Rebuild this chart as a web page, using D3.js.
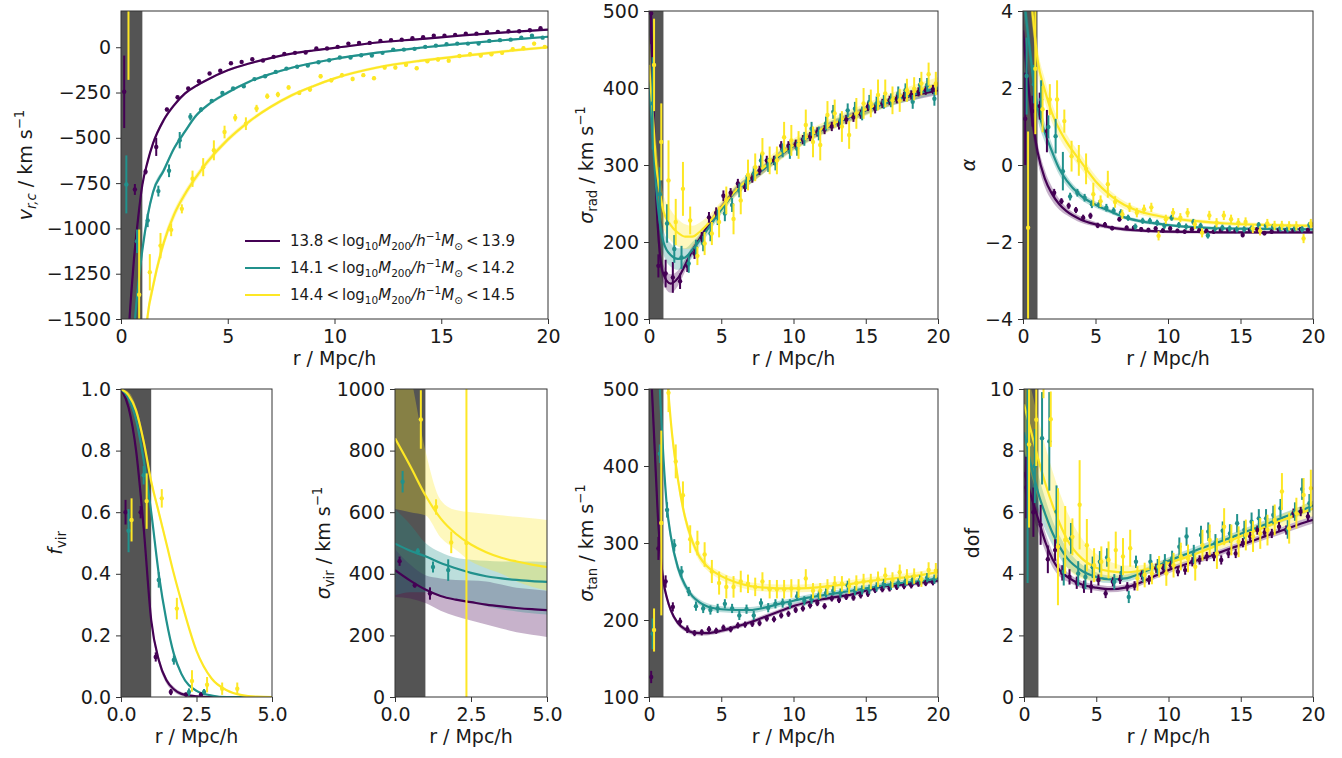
<!DOCTYPE html>
<html>
<head>
<meta charset="utf-8">
<title>velocity profiles</title>
<script src="https://cdnjs.cloudflare.com/ajax/libs/d3/7.8.5/d3.min.js"></script>
<style>
  body { margin: 0; background: #fff; }
  svg text { font-family: "DejaVu Sans", sans-serif; fill: #1a1a1a; }
</style>
</head>
<body>
<svg id="fig" width="1342" height="758"></svg>
<script>
// series colours (viridis ends + middle)
const colors = ["#440154", "#21918c", "#fde725"];
const massLo = ["13.8", "14.1", "14.4"];
const massHi = ["13.9", "14.2", "14.5"];

// radial bins (bin centres) and the small shift used per mass bin
const rBins = [0.25,0.75,1.25,1.75,2.25,2.75,3.25,3.75,4.25,4.75,5.25,5.75,6.25,6.75,7.25,7.75,8.25,8.75,9.25,9.75,
  10.25,10.75,11.25,11.75,12.25,12.75,13.25,13.75,14.25,14.75,15.25,15.75,16.25,16.75,17.25,17.75,18.25,18.75,19.25,19.75];
const rShift = [-0.1, 0, 0.1];
const innerR = [0, 1];   // shaded inner region

// ---- v_r,c ----
const vrcFitR = [0.3,0.4,0.5,0.6,0.75,1,1.25,1.5,2,2.5,3,3.5,4,5,6,7,8,9,10,12,14,16,18,20];
const vrcFitP = [-1750,-1500,-1330,-1180,-1000,-760,-630,-531,-402,-318,-255,-215,-182,-127,-90,-60,-35,-18,-4,26,45,65,82,97];
const vrcFitT = [-2600,-2200,-1850,-1600,-1380,-1120,-930,-800,-680,-555,-465,-380,-325,-250,-190,-148,-113,-87,-65,-30,-3,20,40,58];
const vrcFitY = [-4500,-3800,-3300,-2900,-2400,-1850,-1480,-1320,-1080,-920,-810,-720,-640,-510,-410,-330,-265,-215,-172,-112,-75,-48,-22,0];
const vrcBandP = [30,30,30,28,25,20,16,14,12,10,8,7,6,6,5,5,5,5,5,5,5,5,5,5];
const vrcBandT = [40,40,40,38,35,30,25,20,16,13,11,10,9,8,7,6,6,6,6,6,6,6,6,6];
const vrcBandY = [60,60,60,55,50,45,40,35,30,26,22,20,18,15,12,10,9,8,8,8,8,8,8,8];
const vrcP = [-246,-785,-687,-550,-344,-276,-228,-188,-145,-130,-88,-81,-66,-73,-53,-37,-31,-29,-7,-7,2,20,24,24,35,39,42,50,55,64,64,68,75,75,83,85,88,88,94,105];
const vrcPe = [200,30,15,50,10,8,6,6,6,6,5,5,5,5,5,5,5,5,5,5,5,5,5,5,5,5,5,5,5,5,5,5,5,5,5,5,5,5,5,5];
const vrcT = [-757,-1071,-956,-794,-682,-513,-384,-344,-296,-252,-228,-215,-176,-160,-136,-118,-108,-101,-83,-72,-57,-57,-44,-46,-31,-13,-13,-9,2,9,17,20,20,20,35,39,42,53,64,53];
const vrcTe = [160,65,37,30,35,45,20,12,10,10,8,8,7,7,7,7,6,6,6,6,6,6,6,6,6,6,6,6,6,6,6,6,6,6,6,6,6,6,6,6];
const vrcY = [250,-1366,-1242,-1095,-1008,-892,-726,-662,-569,-468,-389,-422,-338,-270,-261,-222,-252,-233,-160,-182,-154,-175,-154,-171,-112,-112,-97,-116,-77,-68,-74,-48,-39,-46,-39,-31,-11,-6,20,2];
const vrcYe = [430,360,100,70,35,25,45,50,55,35,20,35,20,15,15,12,12,12,12,12,12,12,10,10,10,10,10,10,10,10,10,10,10,10,10,10,10,10,10,10];

// ---- sigma_rad ----
const radFitR = [0,0.25,0.5,0.75,1,1.5,2,2.5,3,3.5,4,5,6,7,8,9,10,11,12,13,14,15,16,17,18,19,20];
const radFitP = [580,420,260,185,158,146,153,170,189,204,219,245,267,281,296,312,325,336,346,355,363,371,378,384,389,393,397];
const radFitT = [410,340,270,225,200,183,178,180,190,202,215,242,266,281,296,312,325,336,346,355,363,371,378,384,390,395,400];
const radFitY = [430,370,300,265,240,222,212,207,207,213,222,245,267,283,298,313,326,337,347,356,364,372,380,387,393,399,405];
const radBandP = [30,25,20,15,12,12,10,8,6,5,5,5,5,5,5,5,5,5,5,5,5,5,5,5,6,6,6];
const radBandT = [30,25,22,18,16,15,14,12,10,8,7,6,6,6,6,6,6,6,6,6,6,6,6,6,7,7,7];
const radBandY = [40,35,30,25,22,20,18,16,14,12,10,8,8,8,8,8,8,8,8,8,8,8,8,8,9,9,9];
const radP = [497,169,159,154,149,169,185,206,232,238,260,264,276,271,283,293,306,306,325,325,327,333,337,343,346,350,352,359,362,366,376,373,380,384,386,389,391,395,397,398];
const radPe = [40,15,18,20,10,8,7,7,7,7,7,6,6,6,6,6,6,6,6,6,6,6,6,6,6,6,6,6,6,6,6,6,6,6,6,6,6,6,6,6];
const radT = [380,262,224,191,180,172,193,198,211,232,237,248,267,278,289,306,300,302,319,317,321,334,347,341,354,369,358,371,373,367,382,380,382,384,393,397,382,404,404,386];
const radTe = [60,35,25,18,15,12,10,10,10,10,10,9,9,9,9,9,9,9,9,9,9,9,9,9,9,9,9,9,9,9,9,9,9,9,9,9,9,9,9,9];
const radY = [430,330,280,226,269,228,182,198,211,226,254,230,254,287,297,315,306,306,336,332,326,352,330,326,365,367,350,339,367,380,380,391,393,384,384,397,399,406,418,406];
const radYe = [60,50,52,30,35,18,12,15,15,20,18,20,18,20,18,20,18,18,20,20,18,20,20,20,18,18,20,18,20,20,18,20,18,18,15,15,15,15,15,15];

// ---- alpha ----
const alpFitR = [0,0.25,0.5,0.75,1,1.5,2,2.5,3,4,5,6,7,8,9,10,12,14,17,20];
const alpFitP = [3.5,2.5,1.6,0.9,0.35,-0.35,-0.75,-1.02,-1.2,-1.42,-1.54,-1.62,-1.67,-1.7,-1.72,-1.73,-1.74,-1.75,-1.75,-1.75];
const alpFitT = [4.6,3.7,2.9,2.1,1.5,0.85,0.35,-0.1,-0.4,-0.8,-1.03,-1.2,-1.36,-1.45,-1.51,-1.56,-1.62,-1.65,-1.66,-1.67];
const alpFitY = [7.5,6,4.6,3.6,2.75,1.95,1.35,0.93,0.6,0.08,-0.42,-0.78,-1.04,-1.2,-1.3,-1.37,-1.46,-1.52,-1.56,-1.58];
const alpBandP = [0.5,0.4,0.35,0.3,0.25,0.22,0.18,0.14,0.1,0.08,0.06,0.05,0.05,0.04,0.04,0.04,0.04,0.04,0.04,0.04];
const alpBandT = [0.5,0.45,0.4,0.35,0.3,0.25,0.2,0.16,0.13,0.1,0.08,0.06,0.05,0.05,0.05,0.04,0.04,0.04,0.04,0.04];
const alpBandY = [0.8,0.6,0.5,0.4,0.35,0.3,0.25,0.22,0.2,0.18,0.15,0.12,0.1,0.08,0.07,0.06,0.05,0.05,0.05,0.05];
const alpP = [1.2,1.4,1.53,0.88,-0.72,-0.94,-1.06,-1.17,-1.37,-1.32,-1.57,-1.55,-1.64,-1.41,-1.63,-1.63,-1.67,-1.69,-1.65,-1.7,-1.65,-1.71,-1.73,-1.67,-1.7,-1.71,-1.73,-1.7,-1.69,-1.71,-1.82,-1.69,-1.67,-1.77,-1.73,-1.69,-1.7,-1.7,-1.67,-1.69];
const alpPe = [1.2,0.4,0.35,0.55,0.1,0.08,0.08,0.08,0.08,0.08,0.07,0.07,0.06,0.06,0.06,0.06,0.06,0.06,0.06,0.06,0.06,0.06,0.06,0.06,0.06,0.06,0.06,0.06,0.06,0.06,0.06,0.06,0.06,0.06,0.06,0.06,0.06,0.06,0.06,0.06];
const alpT = [2.31,2.1,1.7,0.99,0.75,-0.16,-0.82,-0.72,-0.85,-1.02,-1.02,-1.11,-1.19,-1.24,-1.37,-1.6,-1.45,-1.45,-1.5,-1.58,-1.37,-1.56,-1.6,-1.48,-1.58,-1.83,-1.65,-1.63,-1.65,-1.67,-1.67,-1.65,-1.56,-1.58,-1.61,-1.65,-1.67,-1.65,-1.67,-1.56];
const alpTe = [1.0,0.5,0.5,0.3,0.45,0.5,0.1,0.1,0.1,0.1,0.1,0.1,0.09,0.09,0.08,0.08,0.08,0.08,0.08,0.08,0.08,0.08,0.08,0.08,0.08,0.08,0.08,0.08,0.08,0.08,0.08,0.08,0.08,0.08,0.08,0.08,0.08,0.08,0.08,0.08];
const alpY = [-1.63,2.5,1.45,1.7,1.7,1.14,0.23,0.12,-0.1,-0.76,-0.94,-0.5,-0.96,-1.28,-1.1,-1.24,-1.15,-1.1,-1.84,-1.41,-1.24,-1.37,-1.24,-1.54,-1.76,-1.31,-1.5,-1.31,-1.41,-1.5,-1.48,-1.65,-1.71,-1.52,-1.57,-1.57,-1.58,-1.58,-1.91,-1.52];
const alpYe = [2.5,1.7,0.6,0.4,0.5,0.3,0.4,0.4,0.4,0.3,0.15,0.35,0.15,0.12,0.12,0.12,0.12,0.12,0.12,0.12,0.12,0.12,0.12,0.12,0.12,0.12,0.12,0.12,0.12,0.12,0.12,0.12,0.12,0.12,0.12,0.12,0.12,0.12,0.12,0.12];

// ---- f_vir ----
const fvFitR = [0,0.25,0.5,0.75,1,1.25,1.5,1.75,2,2.5,3,3.5,4,4.5,5];
const fvFitP = [1,0.94,0.8,0.55,0.25,0.12,0.055,0.025,0.01,0.002,0,0,0,0,0];
const fvFitT = [1,0.97,0.9,0.77,0.6,0.4,0.25,0.14,0.075,0.02,0.005,0,0,0,0];
const fvFitY = [1,0.98,0.93,0.83,0.7,0.6,0.5,0.4,0.31,0.15,0.06,0.022,0.006,0.001,0];
const fvBand = [0,0.01,0.012,0.014,0.014,0.012,0.01,0.008,0.006,0.004,0.002,0.001,0,0,0];
const fvP = [0.6,0.6,0.13,0.016,0.008,0.008];
const fvPe = [0.04,0.02,0.015,0.01,0.006,0.006];
const fvT = [0.54,0.72,0.38,0.12,0.016,0.016];
const fvTe = [0.07,0.03,0.025,0.015,0.012,0.01];
const fvY = [0.575,0.636,0.645,0.287,0.052,0.04,0.027,0.027];
const fvYe = [0.07,0.09,0.03,0.035,0.035,0.025,0.02,0.02];

// ---- sigma_vir ----
const svFitR = [0,0.5,1,1.5,2,2.5,3,3.5,4,4.5,5];
const svFitP = [412,378,349,328,316,308,300,294,289,285,282];
const svLoP  = [325,320,305,280,262,248,235,222,210,202,195];
const svHiP  = [480,430,395,385,380,378,375,365,355,350,345];
const svFitT = [498,475,457,435,418,403,392,385,380,376,374];
const svLoT  = [330,340,340,330,318,305,295,285,278,272,268];
const svHiT  = [610,560,500,470,452,446,442,440,440,440,438];
const svFitY = [840,750,655,580,530,495,470,452,440,430,422];
const svLoY  = [610,600,590,518,478,440,418,400,375,358,345];
const svHiY  = [1250,1050,800,640,607,600,595,590,585,580,575];
const svP = [441,363,336];
const svPe = [15,8,20];
const svT = [699,473,422,412];
const svTe = [35,10,18,35];
const svY = [null,901,617,502,500];
const svYe = [0,95,25,35,5000];

// ---- sigma_tan ----
const tanFitR = [0.15,0.4,0.6,0.8,1,1.25,1.5,2,2.5,3,3.5,4,5,6,7,8,9,10,11,12,13,14,15,16,17,18,19,20];
const tanFitP = [520,420,340,285,250,228,213,196,188,184,183,183,186,191,197,204,211,218,223,227,230,233,238,243,245,247,249,251];
const tanFitT = [800,680,570,480,410,345,310,268,245,231,223,218,214,213,213,216,221,225,229,232,235,238,241,244,247,249,251,254];
const tanFitY = [1200,1000,850,700,600,520,460,383,333,302,282,270,257,249,244,242,241,241,241.5,243,245,247,250,252,254,256,259,262];
const tanBandP = [20,15,10,8,6,5,4,3,3,3,3,3,3,3,3,3,3,3,3,3,3,3,3,3,3,3,3,3];
const tanBandT = [25,20,15,12,10,8,7,6,5,4,4,4,4,4,4,4,4,4,4,4,4,4,4,4,4,4,4,4];
const tanBandY = [30,25,20,15,12,10,9,8,7,6,6,5,5,5,5,5,5,5,5,5,5,5,5,5,5,5,5,5];
const tanP = [126,293,250,217,198,188,183,184,188,186,190,188,193,194,195,196,202,201,206,208,213,215,219,222,218,228,226,230,229,232,234,239,240,241,243,244,245,247,248,249];
const tanPe = [8,15,8,6,5,5,4,4,4,4,4,4,4,4,4,4,4,4,4,4,4,4,4,4,4,4,4,4,4,4,4,4,4,4,4,4,4,4,4,4];
const tanT = [182,416,343,297,263,237,218,215,213,215,221,215,206,214,206,222,216,221,222,221,231,225,227,232,235,238,235,245,238,239,240,243,247,245,248,250,252,252,255,253];
const tanTe = [20,12,10,8,7,6,6,6,6,6,6,6,6,6,6,6,6,6,6,6,6,6,6,6,6,6,6,6,6,6,6,6,6,6,6,6,6,6,6,6];
const tanY = [187,326,495,406,362,305,300,285,263,248,243,243,250,247,243,250,240,240,240,241,241,254,238,238,243,247,247,244,248,250,250,253,258,252,262,256,257,253,265,264];
const tanYe = [28,120,25,22,18,18,16,16,15,15,15,14,14,12,12,12,12,12,12,12,12,12,10,10,10,10,10,10,10,10,10,10,10,10,10,10,10,10,10,10];

// ---- dof ----
const dofFitR = [0,0.5,1,1.5,2,2.5,3,4,5,6,7,8,9,10,11,12,13,14,15,16,17,18,19,20];
const dofFitP = [7.3,6.5,5.75,5.0,4.45,4.1,3.9,3.65,3.55,3.5,3.55,3.7,3.92,4.12,4.28,4.44,4.6,4.77,4.94,5.1,5.27,5.43,5.6,5.75];
const dofFitT = [8.6,7.5,6.6,5.9,5.3,4.85,4.5,4.1,3.9,3.82,3.85,4.0,4.2,4.42,4.6,4.78,4.95,5.12,5.3,5.48,5.66,5.84,6.02,6.22];
const dofFitY = [9.5,8.6,7.7,6.9,6.2,5.6,5.1,4.5,4.2,4.08,4.05,4.1,4.2,4.35,4.5,4.67,4.85,5.03,5.22,5.4,5.58,5.76,5.94,6.12];
const dofBandP = [0.6,0.5,0.4,0.3,0.25,0.2,0.15,0.12,0.1,0.1,0.1,0.1,0.1,0.1,0.1,0.1,0.1,0.1,0.1,0.1,0.11,0.11,0.12,0.12];
const dofBandT = [1.0,0.8,0.6,0.5,0.4,0.35,0.3,0.2,0.15,0.12,0.12,0.12,0.12,0.12,0.12,0.12,0.12,0.12,0.13,0.13,0.14,0.14,0.15,0.15];
const dofBandY = [1.5,1.4,1.3,1.2,1.1,1.0,0.9,0.65,0.45,0.3,0.22,0.18,0.15,0.15,0.15,0.15,0.15,0.15,0.15,0.17,0.18,0.2,0.22,0.25];
const dofP = [6.8,6.0,5.59,4.47,4.77,4.03,3.9,3.71,3.58,3.58,3.8,3.36,3.74,3.82,3.58,3.61,3.96,3.8,4.18,4.18,4.28,4.07,4.12,4.39,4.45,4.56,4.56,4.45,4.66,4.66,5.01,5.21,5.42,5.34,5.31,5.53,5.42,5.97,6.02,5.86];
const dofPe = [1.0,0.8,0.65,0.45,0.35,0.25,0.25,0.2,0.2,0.2,0.18,0.15,0.15,0.15,0.15,0.15,0.15,0.15,0.15,0.15,0.15,0.15,0.15,0.15,0.15,0.15,0.15,0.15,0.15,0.15,0.15,0.15,0.15,0.15,0.15,0.15,0.15,0.15,0.15,0.15];
const dofT = [8.3,7.5,8.4,8.3,6.02,4.07,5.15,4.01,3.9,4.21,4.39,4.53,3.74,4.03,3.25,4.39,3.93,4.39,4.23,4.39,4.5,4.88,5.21,4.64,5.26,5.37,4.99,5.4,5.31,5.64,5.42,5.69,5.8,5.8,5.91,6.13,5.44,6.02,6.75,6.29];
const dofTe = [4.6,1.2,1.5,1.6,0.85,0.45,0.5,0.4,0.4,0.35,0.35,0.3,0.25,0.22,0.2,0.2,0.2,0.25,0.25,0.25,0.25,0.3,0.3,0.3,0.3,0.3,0.3,0.3,0.3,0.3,0.3,0.3,0.3,0.3,0.3,0.3,0.3,0.3,0.35,0.3];
const dofY = [8.2,9.0,10.4,9.02,4.88,5.1,5.2,6.24,4.93,4.28,4.39,4.45,4.77,4.56,4.83,3.85,3.96,4.01,4.23,4.01,4.28,4.56,4.5,4.23,4.93,5.1,4.66,5.53,5.1,5.04,5.26,5.21,5.31,5.42,5.75,6.67,5.48,5.97,6.56,6.78];
const dofYe = [2.7,1.5,0.7,0.9,1.9,1.1,0.6,1.45,0.85,0.55,0.5,0.6,0.6,0.6,0.6,0.4,0.4,0.35,0.35,0.4,0.4,0.45,0.45,0.45,0.5,0.5,0.5,0.6,0.5,0.5,0.5,0.5,0.5,0.5,0.5,0.6,0.5,0.5,0.55,0.6];

// band from a fit and its half width
function band(fit, half) {
  return { lo: fit.map((v, i) => v - half[i]), hi: fit.map((v, i) => v + half[i]) };
}

const kmsUnit = [[" / km s", ""], ["\u22121", "sup"]];
const fmtInt = d3.format("d"), fmt1 = d3.format(".1f");

const panels = [
  { box: [121, 11, 548, 319], xd: [0, 20], yd: [-1500, 200],
    xt: [0, 5, 10, 15, 20], yt: [-1500, -1250, -1000, -750, -500, -250, 0], xf: fmtInt, yf: fmtInt,
    ylab: [["v", "i"], ["r,c", "isub"]].concat(kmsUnit), ylx: 25,
    fitR: vrcFitR, fits: [vrcFitP, vrcFitT, vrcFitY],
    bands: [band(vrcFitP, vrcBandP), band(vrcFitT, vrcBandT), band(vrcFitY, vrcBandY)],
    pts: [vrcP, vrcT, vrcY], errs: [vrcPe, vrcTe, vrcYe], legend: true },
  { box: [649, 11, 938, 319], xd: [0, 20], yd: [100, 500],
    xt: [0, 5, 10, 15, 20], yt: [100, 200, 300, 400, 500], xf: fmtInt, yf: fmtInt,
    ylab: [["\u03c3", "i"], ["rad", "sub"]].concat(kmsUnit), ylx: 586,
    fitR: radFitR, fits: [radFitP, radFitT, radFitY],
    bands: [band(radFitP, radBandP), band(radFitT, radBandT), band(radFitY, radBandY)],
    pts: [radP, radT, radY], errs: [radPe, radTe, radYe] },
  { box: [1023, 11, 1313, 319], xd: [0, 20], yd: [-4, 4],
    xt: [0, 5, 10, 15, 20], yt: [-4, -2, 0, 2, 4], xf: fmtInt, yf: fmtInt,
    ylab: [["\u03b1", "i"]], ylx: 968,
    fitR: alpFitR, fits: [alpFitP, alpFitT, alpFitY],
    bands: [band(alpFitP, alpBandP), band(alpFitT, alpBandT), band(alpFitY, alpBandY)],
    pts: [alpP, alpT, alpY], errs: [alpPe, alpTe, alpYe] },
  { box: [121, 389, 272, 697], xd: [0, 5], yd: [0, 1],
    xt: [0, 2.5, 5], yt: [0, 0.2, 0.4, 0.6, 0.8, 1.0], xf: fmt1, yf: fmt1,
    ylab: [["f", "i"], ["vir", "sub"]], ylx: 55,
    fitR: fvFitR, fits: [fvFitP, fvFitT, fvFitY],
    bands: [band(fvFitP, fvBand), band(fvFitT, fvBand), band(fvFitY, fvBand)],
    pts: [fvP, fvT, fvY], errs: [fvPe, fvTe, fvYe] },
  { box: [395, 389, 547, 697], xd: [0, 5], yd: [0, 1000],
    xt: [0, 2.5, 5], yt: [0, 200, 400, 600, 800, 1000], xf: fmt1, yf: fmtInt,
    ylab: [["\u03c3", "i"], ["vir", "sub"]].concat(kmsUnit), ylx: 323,
    fitR: svFitR, fits: [svFitP, svFitT, svFitY],
    bands: [{ lo: svLoP, hi: svHiP }, { lo: svLoT, hi: svHiT }, { lo: svLoY, hi: svHiY }],
    pts: [svP, svT, svY], errs: [svPe, svTe, svYe] },
  { box: [649, 389, 938, 697], xd: [0, 20], yd: [100, 500],
    xt: [0, 5, 10, 15, 20], yt: [100, 200, 300, 400, 500], xf: fmtInt, yf: fmtInt,
    ylab: [["\u03c3", "i"], ["tan", "sub"]].concat(kmsUnit), ylx: 586,
    fitR: tanFitR, fits: [tanFitP, tanFitT, tanFitY],
    bands: [band(tanFitP, tanBandP), band(tanFitT, tanBandT), band(tanFitY, tanBandY)],
    pts: [tanP, tanT, tanY], errs: [tanPe, tanTe, tanYe] },
  { box: [1024, 389, 1313, 697], xd: [0, 20], yd: [0, 10],
    xt: [0, 5, 10, 15, 20], yt: [0, 2, 4, 6, 8, 10], xf: fmtInt, yf: fmtInt,
    ylab: [["dof", ""]], ylx: 972,
    fitR: dofFitR, fits: [dofFitP, dofFitT, dofFitY],
    bands: [band(dofFitP, dofBandP), band(dofFitT, dofBandT), band(dofFitY, dofBandY)],
    pts: [dofP, dofT, dofY], errs: [dofPe, dofTe, dofYe] }
];

const svg = d3.select("#fig");
const FS = 19;

// math-ish text with sub/superscripts built from tspans
function rich(text, parts, fs) {
  let cur = 0;
  parts.forEach(([t, k]) => {
    let off = 0, size = fs;
    if (k === "sub" || k === "isub") { off = 0.24 * fs; size = 0.7 * fs; }
    if (k === "sup") { off = -0.4 * fs; size = 0.7 * fs; }
    text.append("tspan")
      .attr("dy", off - cur)
      .attr("font-size", size)
      .attr("font-style", (k === "i" || k === "isub") ? "italic" : "normal")
      .text(t);
    cur = off;
  });
}

panels.forEach((p, pi) => {
  const [x0, y0, x1, y1] = p.box;
  const x = d3.scaleLinear().domain(p.xd).range([x0, x1]);
  const y = d3.scaleLinear().domain(p.yd).range([y1, y0]);

  svg.append("clipPath").attr("id", "clip" + pi)
    .append("rect").attr("x", x0).attr("y", y0).attr("width", x1 - x0).attr("height", y1 - y0);
  const g = svg.append("g").attr("clip-path", `url(#clip${pi})`);

  // inner shaded region
  g.append("rect")
    .attr("x", x(innerR[0])).attr("y", y0)
    .attr("width", x(innerR[1]) - x(innerR[0])).attr("height", y1 - y0)
    .attr("fill", "#545454");

  const area = d3.area().curve(d3.curveMonotoneX)
    .x((d, i) => x(p.fitR[i])).y0(d => y(d[0])).y1(d => y(d[1]));
  const line = d3.line().curve(d3.curveMonotoneX)
    .x((d, i) => x(p.fitR[i])).y(d => y(d));

  p.bands.forEach((b, s) => {
    g.append("path")
      .datum(b.lo.map((v, i) => [v, b.hi[i]]))
      .attr("d", area).attr("fill", colors[s]).attr("fill-opacity", 0.3);
  });
  p.fits.forEach((f, s) => {
    g.append("path").datum(f).attr("d", line)
      .attr("fill", "none").attr("stroke", colors[s]).attr("stroke-width", 2.2);
  });

  // data points with error bars
  p.pts.forEach((vals, s) => {
    const pts = vals.map((v, i) => ({ r: rBins[i] + rShift[s], v: v, e: p.errs[s][i] }))
      .filter(d => d.v !== null);
    const gp = g.append("g");
    gp.selectAll("line").data(pts).enter().append("line")
      .attr("x1", d => x(d.r)).attr("x2", d => x(d.r))
      .attr("y1", d => y(d.v - d.e)).attr("y2", d => y(d.v + d.e))
      .attr("stroke", colors[s]).attr("stroke-width", 2);
    gp.selectAll("circle").data(pts).enter().append("circle")
      .attr("cx", d => x(d.r)).attr("cy", d => y(d.v)).attr("r", 2.2)
      .attr("fill", colors[s]);
  });

  // axes
  const ax = svg.append("g").attr("transform", `translate(0,${y1})`)
    .call(d3.axisBottom(x).tickValues(p.xt).tickFormat(p.xf).tickSize(5).tickPadding(6));
  const ay = svg.append("g").attr("transform", `translate(${x0},0)`)
    .call(d3.axisLeft(y).tickValues(p.yt).tickFormat(p.yf).tickSize(5).tickPadding(5));
  [ax, ay].forEach(a => {
    a.select(".domain").remove();
    a.selectAll(".tick line").attr("stroke", "#333");
    a.selectAll(".tick text").attr("font-size", FS).attr("fill", "#1a1a1a")
      .style("font-family", "DejaVu Sans, sans-serif");
  });

  svg.append("rect").attr("x", x0).attr("y", y0)
    .attr("width", x1 - x0).attr("height", y1 - y0)
    .attr("fill", "none").attr("stroke", "#333").attr("stroke-width", 1);

  // axis labels
  svg.append("text").attr("x", (x0 + x1) / 2).attr("y", y1 + 46)
    .attr("text-anchor", "middle").attr("font-size", FS).text("r / Mpc/h");
  const yl = svg.append("text")
    .attr("transform", `translate(${p.ylx + 0.35 * FS},${(y0 + y1) / 2}) rotate(-90)`)
    .attr("text-anchor", "middle").attr("font-size", FS);
  rich(yl, p.ylab, FS);

  if (p.legend) {
    const lg = svg.append("g");
    colors.forEach((c, s) => {
      const ly = 241 + s * 27;
      lg.append("line").attr("x1", 245).attr("x2", 280).attr("y1", ly).attr("y2", ly)
        .attr("stroke", c).attr("stroke-width", 2);
      const t = lg.append("text").attr("x", 290).attr("y", ly + 5).attr("font-size", 15);
      rich(t, [[massLo[s] + "\u2009<\u2009log", ""], ["10", "sub"], ["M", "i"], ["200", "sub"],
        ["/h", "i"], ["\u22121", "sup"], ["M", "i"], ["\u2299", "sub"], ["\u2009<\u2009" + massHi[s], ""]], 15);
    });
  }
});
</script>
</body>
</html>
